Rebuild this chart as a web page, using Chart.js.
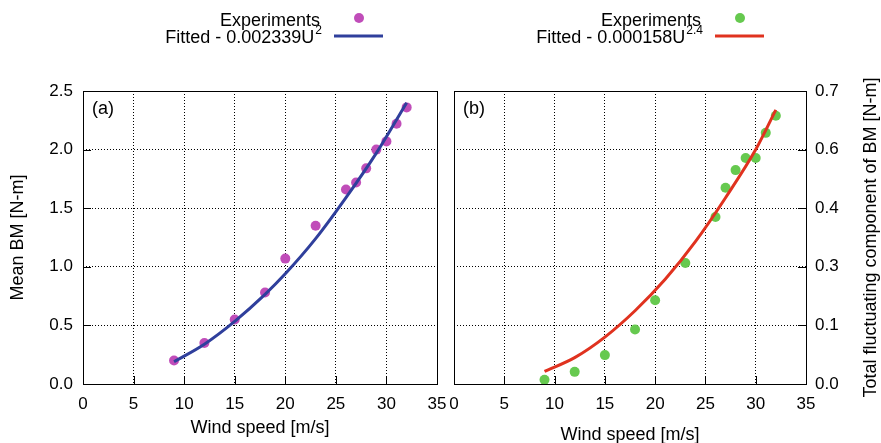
<!DOCTYPE html>
<html>
<head>
<meta charset="utf-8">
<script src="https://cdn.jsdelivr.net/npm/chart.js@4/dist/chart.umd.min.js"></script>
<style>
  html, body { margin: 0; padding: 0; background: #fff; }
  .wrap { position: relative; width: 881px; height: 443px; }
  .wrap canvas { position: absolute; left: 0; top: 0; }
</style>
</head>
<body>
<div class="wrap">
  <canvas id="chartA" width="881" height="443"></canvas>
  <canvas id="chartB" width="881" height="443"></canvas>
</div>
<script>
// dados
const windSpeed = [9, 12, 15, 18, 20, 23, 26, 27, 28, 29, 30, 31, 32];
const meanBM = [0.20, 0.35, 0.55, 0.78, 1.07, 1.35, 1.66, 1.72, 1.84, 2.00, 2.07, 2.22, 2.36];
const fluctBM = [0.010, 0.029, 0.069, 0.130, 0.200, 0.289, 0.399, 0.469, 0.511, 0.540, 0.540, 0.600, 0.641];

// curvas ajustadas
const fitSpeedA = [9, 12, 15, 18, 20, 23, 26, 29, 32];
const fitMeanBM = [0.19, 0.34, 0.535, 0.765, 0.94, 1.24, 1.59, 1.97, 2.40];
const fitSpeedB = [9, 12, 15, 18, 21, 24, 27, 30, 32];
const fitFluctBM = [0.030, 0.063, 0.112, 0.175, 0.250, 0.340, 0.445, 0.560, 0.655];

const xTicks = [0, 5, 10, 15, 20, 25, 30, 35];
const leftTickValues = [0, 0.5, 1.0, 1.5, 2.0, 2.5];
const rightTickValues = [0, 0.14, 0.28, 0.42, 0.56, 0.7];
const rightTickLabels = ['0.0', '0.1', '0.3', '0.4', '0.6', '0.7'];

const FONT = '"Liberation Sans", Arial, Helvetica, sans-serif';
Chart.defaults.font.family = FONT;
Chart.defaults.color = '#000';

const toPoints = (xs, ys) => xs.map((x, i) => ({ x: x, y: ys[i] }));

// moldura, ticks internos, rótulo do painel e legenda
function panelPlugin(cfg) {
    return {
        id: 'panel' + cfg.tag,
        afterDraw(chart) {
            const ctx = chart.ctx;
            const a = chart.chartArea;
            const xs = chart.scales.x;
            const ys = chart.scales.y;
            ctx.save();
            ctx.strokeStyle = '#000';
            ctx.lineWidth = 1;
            ctx.strokeRect(Math.round(a.left) + 0.5, Math.round(a.top) + 0.5,
                Math.round(a.right - a.left), Math.round(a.bottom - a.top));

            // ticks para dentro
            ctx.beginPath();
            xTicks.forEach(v => {
                const px = Math.round(xs.getPixelForValue(v)) + 0.5;
                ctx.moveTo(px, a.bottom);
                ctx.lineTo(px, a.bottom - 8);
            });
            ys.ticks.forEach(t => {
                const py = Math.round(ys.getPixelForValue(t.value)) + 0.5;
                if (cfg.side === 'left') {
                    ctx.moveTo(a.left, py);
                    ctx.lineTo(a.left + 8, py);
                } else {
                    ctx.moveTo(a.right, py);
                    ctx.lineTo(a.right - 8, py);
                }
            });
            ctx.stroke();

            // (a) / (b)
            ctx.fillStyle = '#000';
            ctx.font = '18px ' + FONT;
            ctx.textAlign = 'left';
            ctx.textBaseline = 'middle';
            ctx.fillText(cfg.tag, a.left + 9, 109);

            // legenda
            ctx.textAlign = 'right';
            ctx.textBaseline = 'alphabetic';
            ctx.fillText('Experiments', cfg.legendRight - 2, 26);
            ctx.font = '12px ' + FONT;
            const supW = ctx.measureText(cfg.sup).width;
            ctx.fillText(cfg.sup, cfg.legendRight, 34);
            ctx.font = '18px ' + FONT;
            ctx.fillText(cfg.fitLabel, cfg.legendRight - supW - 1, 43);

            ctx.fillStyle = cfg.dotColor;
            ctx.beginPath();
            ctx.arc(cfg.legendRight + 37, 18, 5, 0, Math.PI * 2);
            ctx.fill();

            ctx.strokeStyle = cfg.lineColor;
            ctx.lineWidth = 3;
            ctx.beginPath();
            ctx.moveTo(cfg.legendRight + 12, 36);
            ctx.lineTo(cfg.legendRight + 61, 36);
            ctx.stroke();

            // título do eixo direito (lido de baixo para cima)
            if (cfg.rightTitle) {
                ctx.fillStyle = '#000';
                ctx.font = '18px ' + FONT;
                ctx.translate(871, (a.top + a.bottom) / 2);
                ctx.rotate(-Math.PI / 2);
                ctx.textAlign = 'center';
                ctx.textBaseline = 'middle';
                ctx.fillText(cfg.rightTitle, 0, 0);
            }
            ctx.restore();
        }
    };
}

function xScale(titlePad) {
    return {
        type: 'linear',
        min: 0,
        max: 35,
        afterBuildTicks: s => { s.ticks = xTicks.map(v => ({ value: v })); },
        afterFit: s => { s.height = 59; },
        ticks: { padding: 10, font: { size: 17 }, color: '#000' },
        grid: { color: '#000', lineWidth: 1, drawTicks: false },
        border: { display: false, dash: [1, 2] },
        title: {
            display: true,
            text: 'Wind speed [m/s]',
            font: { size: 18 },
            color: '#000',
            padding: { top: 0, bottom: titlePad }
        }
    };
}

// painel (a)
new Chart(document.getElementById('chartA'), {
    type: 'scatter',
    data: {
        datasets: [
            {
                label: 'Fitted - 0.002339U2',
                data: toPoints(fitSpeedA, fitMeanBM),
                showLine: true,
                borderColor: '#2f3f9c',
                borderWidth: 3,
                pointRadius: 0,
                cubicInterpolationMode: 'monotone',
                order: 0,
                clip: false
            },
            {
                label: 'Experiments',
                data: toPoints(windSpeed, meanBM),
                backgroundColor: '#c04db9',
                borderWidth: 0,
                pointRadius: 5,
                order: 1,
                clip: false
            }
        ]
    },
    options: {
        responsive: false,
        animation: false,
        events: [],
        layout: { padding: { top: 91, right: 444, left: 0, bottom: 0 } },
        plugins: { legend: { display: false }, tooltip: { enabled: false } },
        scales: {
            x: xScale(4),
            y: {
                type: 'linear',
                position: 'left',
                min: 0,
                max: 2.5,
                afterBuildTicks: s => { s.ticks = leftTickValues.map(v => ({ value: v })); },
                afterFit: s => { s.width = 83; },
                ticks: { padding: 10, font: { size: 17 }, color: '#000', callback: v => v.toFixed(1) },
                grid: { color: '#000', lineWidth: 1, drawTicks: false },
                border: { display: false, dash: [1, 2] },
                title: {
                    display: true,
                    text: 'Mean BM [N-m]',
                    font: { size: 18 },
                    color: '#000',
                    padding: { top: 7, bottom: 0 }
                }
            }
        }
    },
    plugins: [panelPlugin({
        tag: '(a)', side: 'left', legendRight: 322, sup: '2',
        fitLabel: 'Fitted - 0.002339U', dotColor: '#c04db9', lineColor: '#2f3f9c'
    })]
});

// painel (b)
new Chart(document.getElementById('chartB'), {
    type: 'scatter',
    data: {
        datasets: [
            {
                label: 'Fitted - 0.000158U2.4',
                data: toPoints(fitSpeedB, fitFluctBM),
                showLine: true,
                borderColor: '#e0321f',
                borderWidth: 3,
                pointRadius: 0,
                cubicInterpolationMode: 'monotone',
                order: 0,
                clip: false
            },
            {
                label: 'Experiments',
                data: toPoints(windSpeed, fluctBM),
                backgroundColor: '#66c94f',
                borderWidth: 0,
                pointRadius: 5,
                order: 1,
                clip: false
            }
        ]
    },
    options: {
        responsive: false,
        animation: false,
        events: [],
        layout: { padding: { top: 91, right: 0, left: 454, bottom: 0 } },
        plugins: { legend: { display: false }, tooltip: { enabled: false } },
        scales: {
            x: xScale(-3),
            y: {
                type: 'linear',
                position: 'right',
                min: 0,
                max: 0.7,
                afterBuildTicks: s => { s.ticks = rightTickValues.map(v => ({ value: v })); },
                afterFit: s => { s.width = 75; },
                ticks: {
                    padding: 9, font: { size: 17 }, color: '#000',
                    callback: (v, i) => rightTickLabels[i]
                },
                grid: { color: '#000', lineWidth: 1, drawTicks: false },
                border: { display: false, dash: [1, 2] }
            }
        }
    },
    plugins: [panelPlugin({
        tag: '(b)', side: 'right', legendRight: 703, sup: '2.4',
        fitLabel: 'Fitted - 0.000158U', dotColor: '#66c94f', lineColor: '#e0321f',
        rightTitle: 'Total fluctuating component of BM [N-m]'
    })]
});
</script>
</body>
</html>
